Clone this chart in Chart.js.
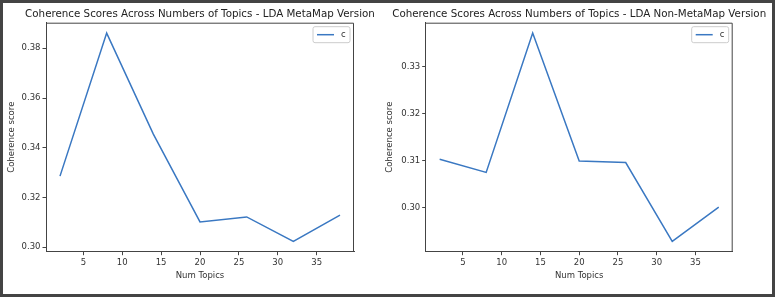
<!DOCTYPE html>
<html lang="en">
<head>
    <meta charset="UTF-8">
    <title>Coherence Scores Across Numbers of Topics</title>
    <script src="https://cdn.jsdelivr.net/npm/chart.js"></script>
    <style>
        body { margin: 0; width: 775px; height: 297px; position: relative; background: #fff; overflow: hidden; }
        canvas { position: absolute; top: 0; }
        #frame { position: absolute; left: 0; top: 0; width: 775px; height: 297px; box-sizing: border-box; border: 3px solid #444; pointer-events: none; }
    </style>
</head>
<body>
    <canvas id="leftChart" width="387" height="297" style="left:0"></canvas>
    <canvas id="rightChart" width="397" height="297" style="left:378px"></canvas>
    <div id="frame"></div>

    <script>
        // datos
        const numTopics = [2, 8, 14, 20, 26, 32, 38];
        const metaMapScores = [0.3286, 0.3861, 0.3455, 0.3102, 0.3122, 0.3024, 0.3129];
        const nonMetaMapScores = [0.3103, 0.3075, 0.3372, 0.3099, 0.3096, 0.2928, 0.3001];

        const xTicks = [5, 10, 15, 20, 25, 30, 35];
        const metaMapYTicks = [0.30, 0.32, 0.34, 0.36, 0.38];
        const nonMetaMapYTicks = [0.30, 0.31, 0.32, 0.33];
        const legendLabel = 'c';

        const FONT = 'DejaVu Sans';
        const AXIS_COLOR = '#444';
        const LINE_COLOR = '#3a78c2';

        // margen de 5% como matplotlib
        function rango(vals) {
            const lo = Math.min(...vals), hi = Math.max(...vals);
            const m = (hi - lo) * 0.05;
            return [lo - m, hi + m];
        }

        // titulo centrado sobre el area, marco superior/derecho y leyenda
        const marcoPlugin = {
            id: 'marco',
            afterDraw(chart, args, opts) {
                const { ctx, chartArea: a } = chart;
                ctx.save();
                ctx.fillStyle = '#222';
                ctx.font = '10.3px "' + FONT + '"';
                ctx.textAlign = 'center';
                ctx.textBaseline = 'middle';
                ctx.fillText(opts.titulo, (a.left + a.right) / 2, 14);

                ctx.strokeStyle = AXIS_COLOR;
                ctx.lineWidth = 1;
                ctx.beginPath();
                ctx.moveTo(a.left, a.top + 0.5);
                ctx.lineTo(a.right - 0.5, a.top + 0.5);
                ctx.lineTo(a.right - 0.5, a.bottom);
                ctx.stroke();

                // leyenda
                const w = 37, h = 16;
                const x = a.right - 4 - w, y = a.top + 4;
                ctx.fillStyle = 'rgba(255,255,255,0.8)';
                ctx.strokeStyle = '#ccc';
                ctx.beginPath();
                ctx.roundRect(x, y, w, h, 2);
                ctx.fill();
                ctx.stroke();
                ctx.strokeStyle = LINE_COLOR;
                ctx.lineWidth = 1.5;
                ctx.beginPath();
                ctx.moveTo(x + 4, y + h / 2);
                ctx.lineTo(x + 21, y + h / 2);
                ctx.stroke();
                ctx.fillStyle = '#333';
                ctx.font = '8.5px "' + FONT + '"';
                ctx.textAlign = 'left';
                ctx.fillText(legendLabel, x + 28, y + h / 2);
                ctx.restore();
            }
        };

        function crearGrafica(id, titulo, valores, yTicks, yWidth, padRight) {
            const [xMin, xMax] = rango(numTopics);
            const [yMin, yMax] = rango(valores);
            const puntos = numTopics.map((n, i) => ({ x: n, y: valores[i] }));
            const ctx = document.getElementById(id).getContext('2d');
            new Chart(ctx, {
                type: 'line',
                data: {
                    datasets: [{
                        label: legendLabel,
                        data: puntos,
                        borderColor: LINE_COLOR,
                        borderWidth: 1.5,
                        pointRadius: 0,
                        tension: 0,
                        fill: false
                    }]
                },
                options: {
                    responsive: false,
                    animation: false,
                    devicePixelRatio: 1,
                    layout: { padding: { top: 22.7, left: 0, right: padRight, bottom: 0 } },
                    plugins: {
                        legend: { display: false },
                        tooltip: { enabled: false },
                        title: { display: false },
                        marco: { titulo: titulo }
                    },
                    scales: {
                        x: {
                            type: 'linear',
                            min: xMin,
                            max: xMax,
                            afterBuildTicks: s => { s.ticks = xTicks.map(v => ({ value: v })); },
                            afterFit: s => { s.height = 45.3; },
                            grid: { drawOnChartArea: false, drawTicks: true, tickLength: 3.5, color: AXIS_COLOR },
                            border: { display: true, color: AXIS_COLOR, width: 1 },
                            ticks: { color: '#333', padding: 2, maxRotation: 0, font: { family: FONT, size: 8.5 } },
                            title: {
                                display: true, text: 'Num Topics', color: '#333',
                                font: { family: FONT, size: 8.5 },
                                padding: { top: 16, bottom: 16 }
                            }
                        },
                        y: {
                            min: yMin,
                            max: yMax,
                            afterBuildTicks: s => { s.ticks = yTicks.map(v => ({ value: v })); },
                            afterFit: s => { s.width = yWidth; },
                            grid: { drawOnChartArea: false, drawTicks: true, tickLength: 3.5, color: AXIS_COLOR },
                            border: { display: true, color: AXIS_COLOR, width: 1 },
                            ticks: {
                                color: '#333', padding: 2,
                                font: { family: FONT, size: 8.5 },
                                callback: v => v.toFixed(2)
                            },
                            title: {
                                display: true, text: 'Coherence score', color: '#333',
                                font: { family: FONT, size: 8.5 },
                                padding: { top: 7, bottom: 7 }
                            }
                        }
                    }
                },
                plugins: [marcoPlugin]
            });
        }

        crearGrafica('leftChart', 'Coherence Scores Across Numbers of Topics - LDA MetaMap Version',
            metaMapScores, metaMapYTicks, 46, 33);
        crearGrafica('rightChart', 'Coherence Scores Across Numbers of Topics - LDA Non-MetaMap Version',
            nonMetaMapScores, nonMetaMapYTicks, 47.7, 42.3);
    </script>
</body>
</html>
